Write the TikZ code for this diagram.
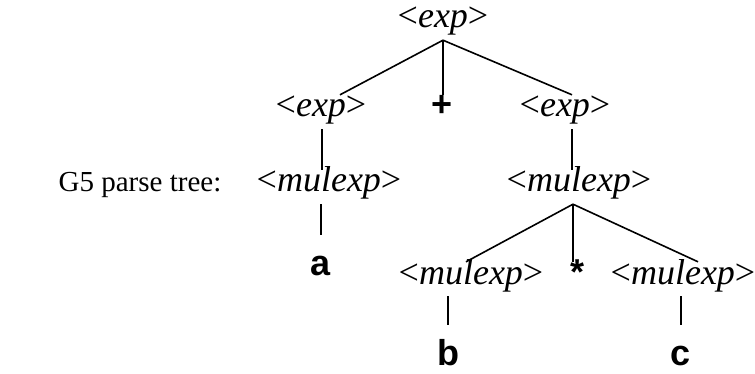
\documentclass[tikz,border=0pt]{standalone}
\usepackage{fontspec}
\setmainfont{Liberation Serif}
\newfontfamily\termfont{Liberation Sans}
\usetikzlibrary{positioning,calc}
\newcommand{\nterm}[1]{<\textit{#1}>}

\begin{document}
\begin{tikzpicture}[x=1pt, y=-1pt, font=\fontsize{29pt}{34pt}\selectfont,
    nt/.style={inner sep=0pt, anchor=base, text height=22pt, text depth=12pt,
      font=\fontsize{36pt}{42pt}\selectfont},
    term/.style={nt, font=\fontsize{36pt}{42pt}\selectfont\termfont\bfseries},
    leaf/.style={term, text height=40pt, text depth=1pt},
    edge/.style={line width=1.6pt}]
        \useasboundingbox (0,0) rectangle (755,374);
        % tree nodes
        \node[nt] (root) at (443,28) {\nterm{exp}};
        \node[nt] (lexp) at (321,117) {\nterm{exp}};
        \node[term] (plus) at (442,117) {+};
        \node[nt] (rexp) at (565,117) {\nterm{exp}};
        \node[nt] (lmul) at (329,192) {\nterm{mulexp}};
        \node[nt] (rmul) at (579,192) {\nterm{mulexp}};
        \node[leaf] (a) at (321,275) {a};
        \node[nt] (lmul2) at (471,284) {\nterm{mulexp}};
        \node[term] (star) at (577,284) {*};
        \node[nt] (rmul2) at (683,284) {\nterm{mulexp}};
        \node[leaf] (b) at (448,365) {b};
        \node[leaf] (c) at (681,365) {c};
        \node[anchor=base] (title) at (140,192) {G5 parse tree:};
        % edges
        \draw[edge] (root.south) -- ([xshift=19pt]lexp.north);
        \draw[edge] (root.south) -- (root.south |- plus.north);
        \draw[edge] (root.south) -- ([xshift=7pt]rexp.north);
        \draw[edge] ([xshift=1pt]lexp.south) -- ([xshift=1pt]lexp.south |- lmul.north);
        \draw[edge] ([xshift=7pt]rexp.south) -- ([xshift=7pt]rexp.south |- rmul.north);
        \draw[edge] (lmul.south -| a.north) -- (a.north);
        \draw[edge] ([xshift=-6pt]rmul.south) -- ([xshift=-5pt]lmul2.north);
        \draw[edge] ([xshift=-6pt]rmul.south) -- ([xshift=-6pt]rmul.south |- star.north);
        \draw[edge] ([xshift=-6pt]rmul.south) -- ([xshift=15pt]rmul2.north);
        \draw[edge] (lmul2.south -| b.north) -- (b.north);
        \draw[edge] (rmul2.south -| c.north) -- (c.north);
\end{tikzpicture}
\end{document}
